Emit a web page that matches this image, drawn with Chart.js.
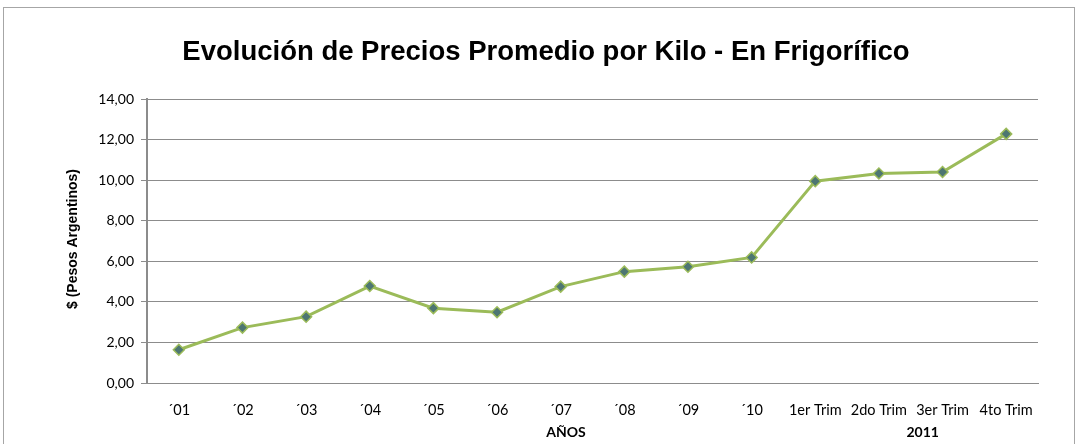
<!DOCTYPE html>
<html>
<head>
<meta charset="utf-8">
<script src="https://cdn.jsdelivr.net/npm/chart.js@4"></script>
<style>
  html, body { margin: 0; padding: 0; background: #fff; }
  #wrap { width: 1076px; height: 444px; position: relative; }
</style>
</head>
<body>
<div id="wrap"><canvas class="js-chart"></canvas></div>
<script>
const TITLE = 'Evolución de Precios Promedio por Kilo - En Frigorífico';
const Y_TITLE = '$ (Pesos Argentinos)';
const periods = ['´01', '´02', '´03', '´04', '´05', '´06', '´07', '´08', '´09', '´10',
  '1er Trim', '2do Trim', '3er Trim', '4to Trim'];
const prices = [1.64, 2.73, 3.27, 4.78, 3.69, 3.49, 4.75, 5.49, 5.73, 6.19,
  9.95, 10.33, 10.4, 12.28];
const groupLabels = ['AÑOS', '2011'];

const LABEL_FONT = 'Lato, "Open Sans", sans-serif';

const ctx = document.querySelector('.js-chart').getContext('2d');

// frame, y title and the two group labels under the category axis
const extras = {
  id: 'extras',
  afterDraw(chart) {
    const c = chart.ctx;
    const x = chart.scales.x;
    c.save();
    c.strokeStyle = '#a6a6a6';
    c.lineWidth = 1;
    c.strokeRect(3.5, 7.5, 1071, 460);

    c.fillStyle = '#000';
    c.font = 'bold 14px "Liberation Sans", Arial, sans-serif';
    c.textAlign = 'center';
    c.textBaseline = 'middle';
    c.translate(73, 239);
    c.rotate(-Math.PI / 2);
    c.fillText(Y_TITLE, 0, 0);
    c.restore();

    c.save();
    c.fillStyle = '#000';
    c.font = 'bold 14px ' + LABEL_FONT;
    c.textAlign = 'center';
    c.textBaseline = 'middle';
    c.fillText(groupLabels[0], 566, 432);
    const mid = (x.getPixelForValue(11) + x.getPixelForValue(12)) / 2;
    c.fillText(groupLabels[1], mid + 12, 432);
    c.restore();
  },
};

new Chart(ctx, {
  type: 'line',
  data: {
    labels: periods,
    datasets: [
      {
        data: prices,
        borderColor: '#9bbb59',
        borderWidth: 3,
        pointStyle: 'rectRot',
        pointRadius: 5.5,
        pointBorderWidth: 1.5,
        pointBackgroundColor: '#4d7672',
        pointBorderColor: '#9bbb59',
        tension: 0,
        fill: false,
      },
    ],
  },
  options: {
    responsive: true,
    maintainAspectRatio: false,
    animation: false,
    layout: { padding: { left: 54, right: 38, top: 0, bottom: 0 } },
    plugins: {
      legend: { display: false },
      tooltip: { enabled: false },
      title: {
        display: true,
        text: TITLE,
        color: '#000',
        font: { family: '"Liberation Sans", Arial, sans-serif', size: 27.5, weight: 'bold' },
        padding: { top: 36, bottom: 30 },
      },
    },
    scales: {
      x: {
        offset: true,
        grid: { display: false, drawTicks: false },
        border: { display: true, color: '#8c8c8c', width: 1 },
        ticks: {
          color: '#000',
          font: { family: LABEL_FONT, size: 14.5 },
          padding: 19,
          maxRotation: 0,
          autoSkip: false,
        },
        afterFit(scale) {
          scale.height = 61;
        },
      },
      y: {
        min: 0,
        max: 14,
        grid: { color: '#8c8c8c', lineWidth: 1, tickLength: 6 },
        border: { display: true, color: '#8c8c8c', width: 2 },
        ticks: {
          stepSize: 2,
          color: '#000',
          padding: 7,
          font: { family: LABEL_FONT, size: 14 },
          callback(value) {
            return value.toFixed(2).replace('.', ',');
          },
        },
        afterFit(scale) {
          scale.width = 93;
        },
      },
    },
  },
  plugins: [extras],
});
</script>
</body>
</html>
